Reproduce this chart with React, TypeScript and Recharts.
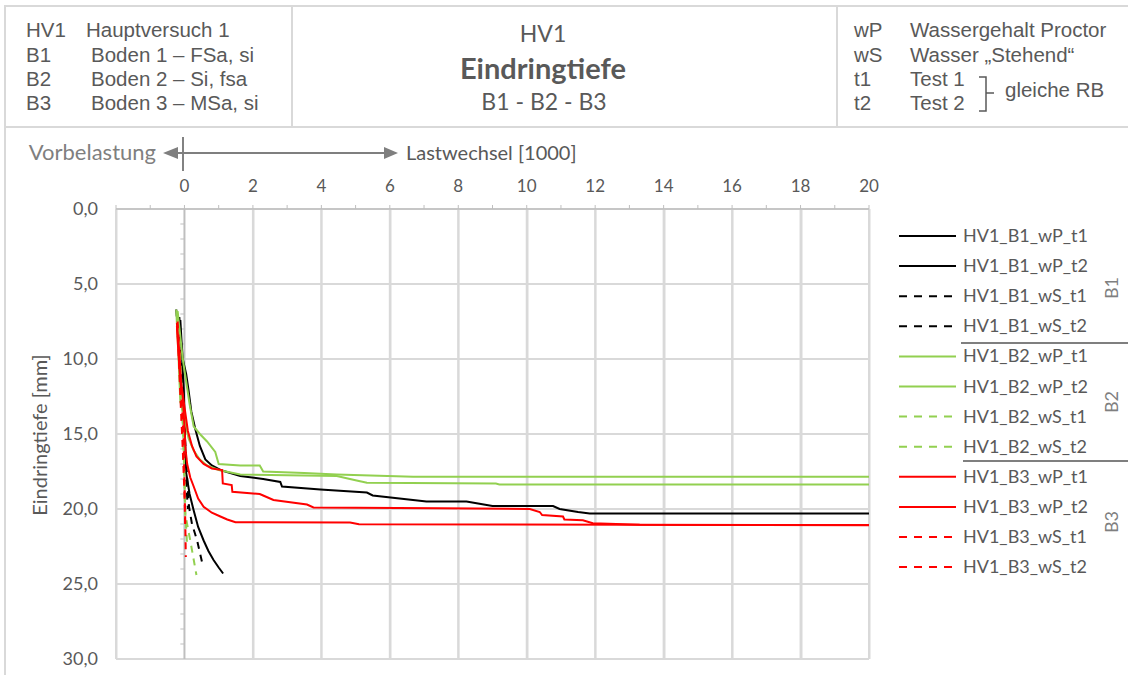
import { LineChart, Line, XAxis, YAxis, CartesianGrid, ReferenceLine } from "recharts"

// Lastwechsel [1000] (x) gegen Eindringtiefe [mm] (y)
const b1WpT1 = [
  [-0.12, 7.4], [-0.08, 9.0], [-0.05, 10.0], [0.05, 11.0], [0.12, 12.1], [0.2, 13.5], [0.32, 14.7],
  [0.45, 15.8], [0.61, 16.7], [0.8, 17.1], [1.05, 17.4], [1.63, 17.8], [2.3, 18.0], [2.8, 18.2],
  [2.85, 18.5], [3.97, 18.7], [5.33, 18.9], [5.5, 19.1], [7.07, 19.5], [8.24, 19.5], [9.0, 19.8],
  [10.77, 19.8], [10.96, 20.0], [11.5, 20.2], [11.84, 20.3], [20, 20.3],
]
const b1WpT2 = [
  [-0.15, 7.2], [-0.08, 9.5], [-0.02, 12.0], [0.02, 15.5], [0.05, 17.6], [0.15, 19.0], [0.27, 20.1],
  [0.4, 21.2], [0.56, 22.1], [0.7, 22.8], [0.85, 23.4], [1.0, 23.9], [1.13, 24.3],
]
const b1WsT1 = [
  [-0.24, 6.7], [-0.2, 8.0], [-0.15, 9.5], [-0.05, 12.0], [0.02, 15.5], [0.08, 18.0], [0.13, 19.8],
  [0.22, 21.0], [0.37, 22.1], [0.54, 23.8],
]
const b1WsT2 = [
  [-0.22, 6.8], [-0.15, 8.5], [-0.08, 10.5], [-0.02, 13.0], [0.02, 16.0], [0.06, 18.5], [0.1, 20.0],
]
const b2WpT1 = [
  [-0.2, 6.8], [-0.12, 8.5], [-0.05, 10.0], [0.05, 11.5], [0.15, 13.0], [0.27, 14.5], [0.45, 15.0],
  [0.66, 15.5], [0.9, 16.2], [1.0, 17.0], [1.63, 17.1], [2.2, 17.1], [2.3, 17.5], [3.5, 17.6],
  [4.45, 17.7], [6.68, 17.85], [20, 17.85],
]
const b2WpT2 = [
  [-0.24, 6.7], [-0.18, 9.5], [-0.12, 12.9], [-0.02, 13.2], [0.03, 14.3], [0.12, 15.3], [0.27, 16.1],
  [0.45, 16.7], [0.66, 17.1], [1.0, 17.4], [1.63, 17.7], [3.0, 17.75], [4.45, 17.8], [5.03, 18.1],
  [5.33, 18.25], [9.1, 18.3], [9.2, 18.36], [20, 18.36],
]
const b2WsT1 = [
  [-0.22, 6.9], [-0.15, 9.5], [-0.08, 12.5], [-0.03, 15.5], [0.0, 18.0], [0.02, 20.3], [0.17, 22.1],
  [0.35, 24.4],
]
const b2WsT2 = [
  [-0.2, 7.0], [-0.12, 10.0], [-0.05, 14.0], [0.0, 18.0], [0.03, 20.5], [0.08, 22.5],
]
const b3WpT1 = [
  [-0.21, 8.0], [-0.15, 9.5], [-0.1, 11.5], [0.0, 13.2], [0.1, 14.8], [0.22, 15.8], [0.35, 16.5],
  [0.56, 17.0], [0.8, 17.3], [1.1, 17.4], [1.12, 18.3], [1.38, 18.4], [1.4, 18.85], [2.2, 19.0],
  [2.3, 19.1], [2.6, 19.4], [3.58, 19.7], [3.77, 19.9], [7.46, 19.95], [10.09, 20.0], [10.38, 20.2],
  [10.45, 20.4], [11.06, 20.5], [11.1, 20.7], [11.64, 20.75], [11.93, 20.95], [13.3, 21.05], [20, 21.08],
]
const b3WpT2 = [
  [-0.22, 7.8], [-0.18, 9.5], [-0.12, 11.5], [-0.05, 12.5], [0.0, 14.5], [0.03, 16.0], [0.08, 17.0],
  [0.17, 17.9], [0.27, 18.5], [0.4, 19.3], [0.56, 19.85], [0.8, 20.25], [1.05, 20.5], [1.25, 20.7],
  [1.49, 20.88], [4.84, 20.9], [5.1, 21.02], [20, 21.07],
]
const b3WsT1 = [
  [-0.2, 7.5], [-0.15, 9.5], [-0.1, 12.0], [-0.03, 15.0], [0.0, 18.0], [0.02, 20.3], [0.04, 23.2],
]
const b3WsT2 = [
  [-0.22, 7.6], [-0.18, 9.0], [-0.12, 12.5], [-0.05, 16.0], [0.0, 19.0], [0.02, 21.0],
]

const xTicks = [-2, -1, 0, 1, 2, 3, 4, 5, 6, 7, 8, 9, 10, 11, 12, 13, 14, 15, 16, 17, 18, 19, 20]
const xGrid = [-2, 2, 4, 6, 8, 10, 12, 14, 16, 18, 20]
const yTicks = [0, 5, 10, 15, 20, 25, 30]
const yMinor = [
  1, 2, 3, 4, 6, 7, 8, 9, 11, 12, 13, 14, 16, 17, 18, 19, 21, 22, 23, 24, 26, 27, 28, 29,
]

const BLACK = "#000000"
const GREEN = "#92d050"
const RED = "#ff0000"
const TEXT = "#595959"
const GRID = "#d9d9d9"
const AXIS = "#bfbfbf"
const CALIBRI = "Lato, 'Open Sans', sans-serif"
const ARIAL = "'Liberation Sans', Arial, sans-serif"

// Plotfläche (aus den Rändern des Diagramms)
const PLOT_L = 116
const PLOT_R = 869
const PLOT_T = 209
const PLOT_B = 659
const gx = (v: number) => Math.round(PLOT_L + ((v + 2) * (PLOT_R - PLOT_L)) / 22) + 0.5

const series = [
  { name: "HV1_B1_wP_t1", pts: b1WpT1, color: BLACK, dashed: false },
  { name: "HV1_B1_wP_t2", pts: b1WpT2, color: BLACK, dashed: false },
  { name: "HV1_B1_wS_t1", pts: b1WsT1, color: BLACK, dashed: true },
  { name: "HV1_B1_wS_t2", pts: b1WsT2, color: BLACK, dashed: true },
  { name: "HV1_B2_wP_t1", pts: b2WpT1, color: GREEN, dashed: false },
  { name: "HV1_B2_wP_t2", pts: b2WpT2, color: GREEN, dashed: false },
  { name: "HV1_B2_wS_t1", pts: b2WsT1, color: GREEN, dashed: true },
  { name: "HV1_B2_wS_t2", pts: b2WsT2, color: GREEN, dashed: true },
  { name: "HV1_B3_wP_t1", pts: b3WpT1, color: RED, dashed: false },
  { name: "HV1_B3_wP_t2", pts: b3WpT2, color: RED, dashed: false },
  { name: "HV1_B3_wS_t1", pts: b3WsT1, color: RED, dashed: true },
  { name: "HV1_B3_wS_t2", pts: b3WsT2, color: RED, dashed: true },
]

const leftRows = [
  ["HV1", "Hauptversuch 1", 86],
  ["B1", "Boden 1 – FSa, si", 91],
  ["B2", "Boden 2 – Si, fsa", 91],
  ["B3", "Boden 3 – MSa, si", 91],
] as const
const rightRows = [
  ["wP", "Wassergehalt Proctor"],
  ["wS", "Wasser „Stehend“"],
  ["t1", "Test 1"],
  ["t2", "Test 2"],
]
const rowBase = [37, 62, 86, 110]
const groups = [
  { label: "B1", y: 288 },
  { label: "B2", y: 402 },
  { label: "B3", y: 522 },
]

const fmtY = (v: number) => v.toFixed(1).replace(".", ",")
const fmtX = (v: number) => (v >= 0 && v % 2 === 0 ? String(v) : "")

export default function App() {
  return (
    <div style={{ position: "absolute", left: 0, top: 0, width: 1128, height: 675, background: "#fff", overflow: "hidden" }}>
      {/* senkrechte Gitterlinien hinter dem Diagramm */}
      <svg width={1128} height={675} style={{ position: "absolute", left: 0, top: 0 }}>
        {xGrid.map((v) => (
          <line key={v} x1={gx(v)} y1={PLOT_T} x2={gx(v)} y2={PLOT_B} stroke={GRID} strokeWidth={2} />
        ))}
      </svg>

      <LineChart
        width={1128}
        height={675}
        margin={{ top: 179, right: 259, bottom: 16, left: 0 }}
        style={{ position: "absolute", left: 0, top: 0 }}
      >
        <CartesianGrid vertical={false} stroke={GRID} strokeWidth={2} />
        {xGrid.map((v) => (
          <ReferenceLine key={"g" + v} x={v} ifOverflow="visible" stroke={GRID} strokeWidth={2} />
        ))}
        <XAxis
          type="number"
          dataKey="x"
          orientation="top"
          domain={[-2, 20]}
          ticks={xTicks}
          interval={0}
          allowDataOverflow
          height={30}
          tickSize={4}
          tickMargin={13}
          tickFormatter={fmtX}
          axisLine={{ stroke: AXIS, strokeWidth: 1.5 }}
          tickLine={{ stroke: AXIS }}
          tick={{ fill: TEXT, fontSize: 17, fontFamily: CALIBRI }}
        />
        <YAxis
          type="number"
          domain={[0, 30]}
          reversed
          ticks={yTicks}
          interval={0}
          allowDataOverflow
          width={116}
          axisLine={false}
          tickLine={false}
          tickSize={0}
          tickMargin={18}
          tickFormatter={fmtY}
          tick={{ fill: TEXT, fontSize: 18, fontFamily: CALIBRI }}
        />
        <ReferenceLine x={0} stroke={AXIS} strokeWidth={2} />
        {yMinor.map((v) => (
          <ReferenceLine key={"m" + v} segment={[{ x: -0.12, y: v }, { x: 0, y: v }]} stroke={AXIS} />
        ))}
        {series.map((s) => (
          <Line
            key={s.name}
            name={s.name}
            data={s.pts.map(([x, y]) => ({ x, y }))}
            dataKey="y"
            type="linear"
            stroke={s.color}
            strokeWidth={2}
            strokeDasharray={s.dashed ? "7 6" : undefined}
            dot={false}
            isAnimationActive={false}
          />
        ))}
      </LineChart>

      <svg width={1128} height={675} style={{ position: "absolute", left: 0, top: 0, pointerEvents: "none" }}>
        {/* Rahmen */}
        <line x1={4} y1={6} x2={1128} y2={6} stroke={GRID} strokeWidth={2} />
        <line x1={5} y1={5} x2={5} y2={675} stroke={GRID} strokeWidth={2} />
        <line x1={4} y1={127} x2={1128} y2={127} stroke={GRID} strokeWidth={2} />
        <line x1={292} y1={6} x2={292} y2={127} stroke={GRID} strokeWidth={2} />
        <line x1={837} y1={6} x2={837} y2={127} stroke={GRID} strokeWidth={2} />

        {leftRows.map(([k, t, x], i) => (
          <g key={k} fontFamily={ARIAL} fontSize={20.5} fill={TEXT}>
            <text x={26} y={rowBase[i]}>{k}</text>
            <text x={x} y={rowBase[i]}>{t}</text>
          </g>
        ))}

        <g fontFamily={CALIBRI} fill={TEXT} textAnchor="middle">
          <text x={543} y={42} fontSize={23}>HV1</text>
          <text x={543} y={79} fontSize={29} fontWeight="bold">Eindringtiefe</text>
          <text x={544} y={110} fontSize={23}>B1 - B2 - B3</text>
        </g>

        {rightRows.map(([k, t], i) => (
          <g key={k} fontFamily={ARIAL} fontSize={20.5} fill={TEXT}>
            <text x={854} y={rowBase[i]}>{k}</text>
            <text x={910} y={rowBase[i]}>{t}</text>
          </g>
        ))}
        <path d="M979 77 H986 V111 H979 M986 93 H994" fill="none" stroke={TEXT} strokeWidth={1.5} />
        <text x={1005} y={97} fontFamily={ARIAL} fontSize={20.5} fill={TEXT}>gleiche RB</text>

        {/* Vorbelastung / Lastwechsel */}
        <line x1={183} y1={137} x2={183} y2={171} stroke={TEXT} strokeWidth={1.5} />
        <line x1={176} y1={153} x2={386} y2={153} stroke="#7f7f7f" strokeWidth={2} />
        <polygon points="163,153 178,147 178,159" fill="#7f7f7f" />
        <polygon points="398,153 384,147 384,159" fill="#7f7f7f" />
        <text x={156} y={160} textAnchor="end" fontFamily={CALIBRI} fontSize={22} fill="#7f7f7f">Vorbelastung</text>
        <text x={406} y={160} fontFamily={CALIBRI} fontSize={20} fill={TEXT}>Lastwechsel [1000]</text>

        <text
          x={42}
          y={435}
          transform="rotate(-90 42 435)"
          textAnchor="middle"
          dominantBaseline="middle"
          fontFamily={CALIBRI}
          fontSize={20}
          fill={TEXT}
        >
          Eindringtiefe [mm]
        </text>

        {/* Legende */}
        {series.map((s, i) => {
          const y = 236 + i * 30.1
          return (
            <g key={s.name}>
              <line
                x1={899}
                y1={y}
                x2={956}
                y2={y}
                stroke={s.color}
                strokeWidth={2}
                strokeDasharray={s.dashed ? "8 7" : undefined}
              />
              <text x={963} y={y + 6} fontFamily={CALIBRI} fontSize={18} fill={TEXT}>{s.name}</text>
            </g>
          )
        })}
        <line x1={961} y1={343} x2={1128} y2={343} stroke="#7f7f7f" strokeWidth={2} />
        <line x1={963} y1={461} x2={1128} y2={461} stroke="#7f7f7f" strokeWidth={2} />
        {groups.map((g) => (
          <text
            key={g.label}
            x={1113}
            y={g.y}
            transform={`rotate(-90 1113 ${g.y})`}
            textAnchor="middle"
            dominantBaseline="middle"
            fontFamily={CALIBRI}
            fontSize={18}
            fill="#7f7f7f"
          >
            {g.label}
          </text>
        ))}
      </svg>
    </div>
  )
}
